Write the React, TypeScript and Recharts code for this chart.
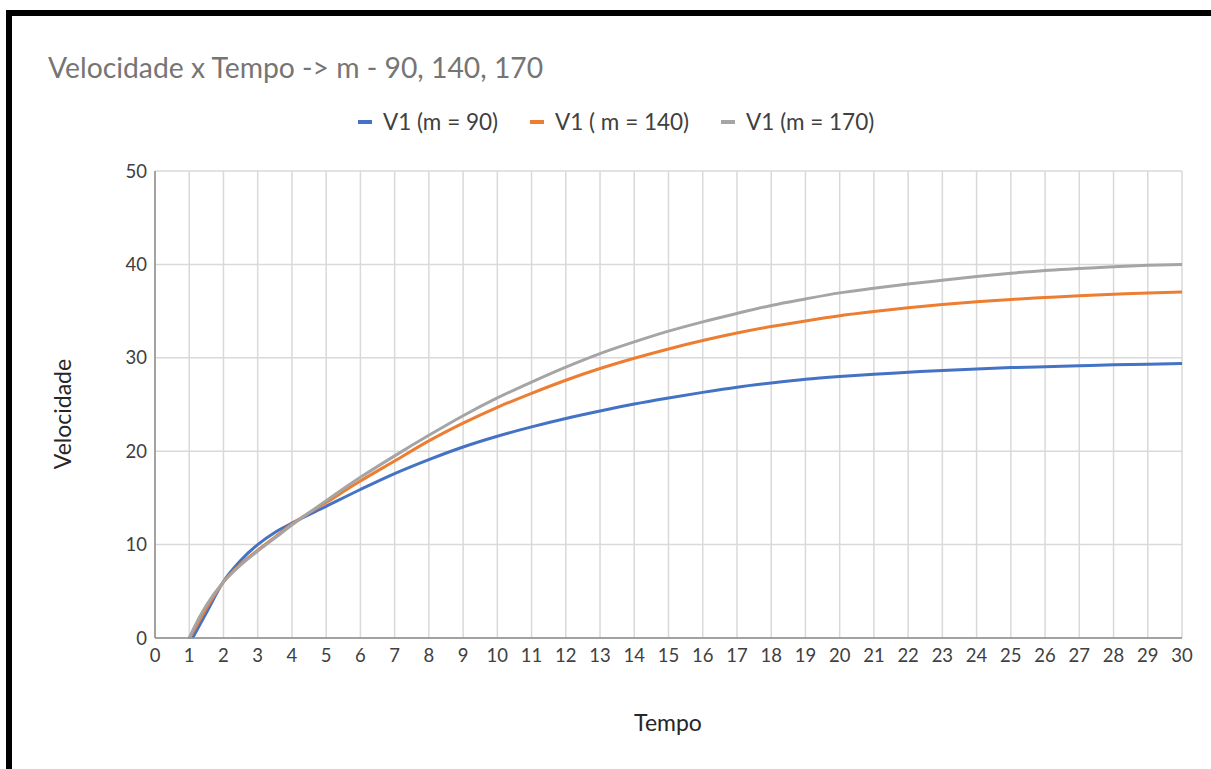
import { LineChart, Line, XAxis, YAxis, CartesianGrid } from 'recharts';

// Tempo (s) and velocity
const tempo = [1, 1.1, 1.5, 2, 2.5, 3, 3.5, 4, 5, 6, 7, 8, 9, 10, 11, 12, 13, 14, 15, 16, 17, 18, 19, 20, 21, 22, 23, 24, 25, 26, 27, 28, 29, 30];

const v90 = [null, 0, 2.7, 6.05, 8.3, 10.0, 11.3, 12.3, 14.1, 15.9, 17.6, 19.1, 20.45, 21.6, 22.6, 23.5, 24.3, 25.05, 25.7, 26.3, 26.85, 27.3, 27.7, 28.0, 28.25, 28.45, 28.65, 28.8, 28.95, 29.05, 29.15, 29.25, 29.3, 29.4];
const v140 = [0, 0.6, 3.2, 6.0, 7.9, 9.4, 10.8, 12.2, 14.5, 16.8, 18.95, 21.1, 23.0, 24.7, 26.2, 27.6, 28.85, 29.95, 30.95, 31.85, 32.65, 33.35, 33.95, 34.5, 34.95, 35.35, 35.7, 36.0, 36.25, 36.45, 36.65, 36.8, 36.95, 37.05];
const v170 = [0, 0.8, 3.5, 6.0, 7.8, 9.3, 10.7, 12.1, 14.7, 17.2, 19.5, 21.7, 23.8, 25.7, 27.4, 29.0, 30.45, 31.7, 32.85, 33.85, 34.75, 35.6, 36.3, 36.95, 37.45, 37.9, 38.3, 38.7, 39.05, 39.35, 39.55, 39.75, 39.9, 40.0];

const xTicks = Array.from({ length: 31 }, (_, i) => i);
const yTicks = [0, 10, 20, 30, 40, 50];

const series = [
  { key: 'v90', name: 'V1 (m = 90)', color: '#4472C4' },
  { key: 'v140', name: 'V1 ( m = 140)', color: '#ED7D31' },
  { key: 'v170', name: 'V1 (m = 170)', color: '#A5A5A5' },
];

const data = tempo.map((t, i) => ({ t, v90: v90[i], v140: v140[i], v170: v170[i] }));

const FONT = 'Lato, "Open Sans", sans-serif';

export default function App() {
  return (
    <div
      style={{
        position: 'fixed',
        top: 0,
        left: 0,
        width: 1211,
        height: 769,
        overflow: 'hidden',
        background: '#fff',
        fontFamily: FONT,
      }}
    >
      {/* thick black frame, only top and left are visible */}
      <div
        style={{
          position: 'absolute',
          left: 6,
          top: 10,
          width: 1400,
          height: 1000,
          borderTop: '6px solid #000',
          borderLeft: '6px solid #000',
        }}
      />

      <div style={{ position: 'absolute', left: 48, top: 50, fontSize: 28.3, color: '#757575', whiteSpace: 'nowrap' }}>
        Velocidade x Tempo -&gt; m - 90, 140, 170
      </div>

      <div
        style={{
          position: 'absolute',
          left: 358,
          top: 108,
          display: 'flex',
          alignItems: 'center',
          fontSize: 22.5,
          color: '#404040',
          whiteSpace: 'nowrap',
        }}
      >
        {series.map((s) => (
          <div key={s.key} style={{ display: 'flex', alignItems: 'center', marginRight: 32 }}>
            <span style={{ display: 'inline-block', width: 14, height: 4, background: s.color, marginRight: 11 }} />
            <span>{s.name}</span>
          </div>
        ))}
      </div>

      <div
        style={{
          position: 'absolute',
          left: 62,
          top: 414,
          transform: 'translate(-50%, -50%) rotate(-90deg)',
          fontSize: 23,
          color: '#262626',
          whiteSpace: 'nowrap',
        }}
      >
        Velocidade
      </div>

      <div
        style={{
          position: 'absolute',
          left: 668,
          top: 722,
          transform: 'translate(-50%, -50%)',
          fontSize: 23,
          color: '#262626',
          whiteSpace: 'nowrap',
        }}
      >
        Tempo
      </div>

      <div style={{ position: 'absolute', left: 0, top: 0 }}>
        <LineChart width={1211} height={769} data={data} margin={{ top: 171, right: 29, bottom: 0, left: 0 }}>
          <CartesianGrid stroke="#d9d9d9" strokeWidth={1.5} />
          <XAxis
            dataKey="t"
            type="number"
            domain={[0, 30]}
            ticks={xTicks}
            interval={0}
            height={131}
            tickLine={false}
            tickSize={10}
            tickMargin={1}
            axisLine={{ stroke: '#8c8c8c', strokeWidth: 1.5 }}
            tick={{ fill: '#404040', fontSize: 18.5, fontFamily: FONT }}
          />
          <YAxis
            type="number"
            domain={[0, 50]}
            ticks={yTicks}
            width={155}
            tickLine={false}
            tickSize={8}
            tickMargin={0}
            axisLine={{ stroke: '#8c8c8c', strokeWidth: 1.5 }}
            tick={{ fill: '#404040', fontSize: 18.5, fontFamily: FONT }}
          />
          {series.map((s) => (
            <Line
              key={s.key}
              type="monotone"
              dataKey={s.key}
              name={s.name}
              stroke={s.color}
              strokeWidth={3}
              dot={false}
              isAnimationActive={false}
            />
          ))}
        </LineChart>
      </div>
    </div>
  );
}
